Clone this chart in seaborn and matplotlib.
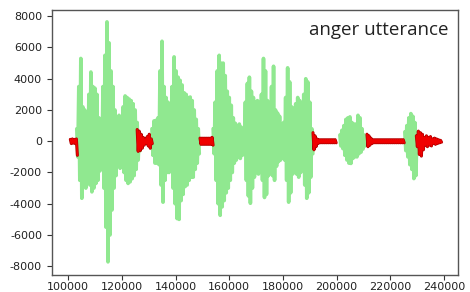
import numpy as np
import pandas as pd
import matplotlib
matplotlib.use("Agg")
import matplotlib.pyplot as plt
import seaborn as sns

# ---- data: waveform envelopes (sample index, amplitude) ----
STEP = 750  # samples between envelope readings

# voiced (green) segments: start sample, upper peaks, lower peaks
g1_start = 103200
g1_up = [800, 3500, 5300, 2200, 2000, 1800, 3000, 4430, 3500, 3400, 3000, 1500, 1340,
         3500, 5500, 7640, 6300, 4500, 3500, 2000, 1500, 1660, 1000, 2200, 2900, 2800,
         2700, 2600, 2400, 2000, 1200, 500]
g1_lo = [-1000, -2500, -3650, -2800, -3000, -2600, -2800, -3240, -3000, -2700, -2500, -1900,
         -1800, -3000, -5500, -7720, -6000, -4400, -3000, -2200, -1400, -1730, -1300, -2000,
         -2500, -2700, -2600, -2400, -2200, -1800, -1200, -600]

g2_start = 131200
g2_up = [800, 1300, 1340, 1500, 4500, 6400, 3500, 2800, 2500, 2200, 3500, 5400, 4500,
         4100, 3900, 3600, 3100, 3000, 2800, 2830, 2600, 2000, 1400, 800]
g2_lo = [-900, -1400, -1400, -1500, -2800, -3900, -2500, -2000, -2000, -1800, -3000, -4000,
         -4950, -5000, -3800, -3400, -2900, -2800, -2500, -2300, -2300, -1800, -1400, -800]

g3_start = 154000
g3_up = [800, 2500, 4500, 5500, 5000, 5000, 4200, 3200, 2800, 2300, 1500, 1150, 1000, 1100,
         900, 600, 2500, 3700, 4100, 3200, 2800, 2500, 2600, 1800, 3000, 5300, 4500, 2600,
         2000, 3500, 4800, 2000, 1800, 1600, 800, 1200, 2800, 4700, 3800, 2200, 2100, 2400,
         2800, 2600, 2200, 3000, 4000, 3800, 2500, 800]
g3_lo = [-800, -2500, -4000, -4740, -4200, -3800, -3300, -3000, -2500, -2000, -1400, -1200,
         -1000, -1100, -900, -600, -2500, -3500, -3970, -3000, -2300, -2000, -2100, -1800,
         -2500, -3600, -3400, -2200, -1800, -2200, -2500, -1600, -1300, -1200, -800, -1200,
         -2500, -3900, -3300, -2100, -2000, -2100, -2300, -2000, -1800, -2800, -3650, -3300,
         -2300, -800]

g4_start = 201200
g4_up = [400, 700, 1000, 1400, 1500, 1560, 1200, 1100, 1100, 1660, 1500, 800, 400, 200]
g4_lo = [-300, -470, -900, -1200, -1400, -1420, -1100, -1000, -1000, -800, -700, -500,
         -300, -200]

g5_start = 225400
g5_up = [600, 1000, 1500, 1770, 1600, 1200, 300]
g5_lo = [-600, -1000, -1500, -1800, -2390, -2200, -500]

# unvoiced / silence (red) segments
r1_start = 100800
r1_up = [120, 150, 120, 150]
r1_lo = [-150, -120, -150, -900]

r2_start = 125700
r2_up = [750, 650, 450, 250, 150, 300, 450, 150]
r2_lo = [-650, -600, -450, -250, -150, -300, -450, -150]

r3_start = 149100
r3_up = [200, 200, 200, 200, 200, 200, 250]
r3_lo = [-200, -200, -200, -200, -200, -200, -250]

r4_start = 191200
r4_up = [550, 350, 150, 100, 100, 100, 100, 100, 100, 100, 100, 100]
r4_lo = [-550, -350, -150, -100, -100, -100, -100, -100, -100, -100, -100, -100]

r5_start = 211300
r5_up = [450, 350, 200, 100, 100, 100, 100, 100, 100, 100, 100, 100, 100, 100, 100, 100,
         100, 100, 100]
r5_lo = [-350, -250, -150, -100, -100, -100, -100, -100, -100, -100, -100, -100, -100, -100,
         -100, -100, -100, -100, -100]

r6_start = 229700
r6_up = [350, 650, 550, 450, 250, 350, 250, 300, 150, 200, 150, 100, 60]
r6_lo = [-350, -850, -950, -550, -250, -350, -250, -300, -150, -200, -150, -100, -60]

x_ticks = [100000, 120000, 140000, 160000, 180000, 200000, 220000, 240000]
y_ticks = [-8000, -6000, -4000, -2000, 0, 2000, 4000, 6000, 8000]
label = "anger utterance"


def segment_frame(name, start, up, lo):
    rows = []
    for i, (u, l) in enumerate(zip(up, lo)):
        s = start + i * STEP
        rows.append((name, s, u))
        rows.append((name, s + STEP / 2, l))
    return pd.DataFrame(rows, columns=["seg", "sample", "amp"])


green = pd.concat([
    segment_frame("g1", g1_start, g1_up, g1_lo),
    segment_frame("g2", g2_start, g2_up, g2_lo),
    segment_frame("g3", g3_start, g3_up, g3_lo),
    segment_frame("g4", g4_start, g4_up, g4_lo),
    segment_frame("g5", g5_start, g5_up, g5_lo),
], ignore_index=True)

red = pd.concat([
    segment_frame("r1", r1_start, r1_up, r1_lo),
    segment_frame("r2", r2_start, r2_up, r2_lo),
    segment_frame("r3", r3_start, r3_up, r3_lo),
    segment_frame("r4", r4_start, r4_up, r4_lo),
    segment_frame("r5", r5_start, r5_up, r5_lo),
    segment_frame("r6", r6_start, r6_up, r6_lo),
], ignore_index=True)

sns.set_style("ticks")
plt.rcParams["font.family"] = ["DejaVu Sans"]

fig = plt.figure(figsize=(4.7, 2.92), dpi=100)
ax = fig.add_axes([51.7 / 470, 1 - 275 / 292, (458.3 - 51.7) / 470, (275 - 10) / 292])

sns.lineplot(data=green, x="sample", y="amp", units="seg", estimator=None, sort=False,
             color="#90e890", lw=2.6, ax=ax)
sns.lineplot(data=red, x="sample", y="amp", units="seg", estimator=None, sort=False,
             color="#b00000", lw=2.2, ax=ax)
sns.lineplot(data=red, x="sample", y="amp", units="seg", estimator=None, sort=False,
             color="#f00000", lw=1.2, ax=ax)

ax.set_xlim(93855, 245325)
ax.set_ylim(-8560, 8400)
ax.set_xticks(x_ticks)
ax.set_xticklabels([str(v) for v in x_ticks])
ax.set_yticks(y_ticks)
ax.set_yticklabels([str(v) for v in y_ticks])
ax.set_xlabel("")
ax.set_ylabel("")
ax.tick_params(labelsize=8, length=3.5, width=0.8, colors="#333333", labelcolor="#222222")
ax.tick_params(axis="x", pad=1.2)
for sp in ax.spines.values():
    sp.set_visible(True)
    sp.set_color("#555555")
    sp.set_linewidth(1.0)

ax.text(0.975, 0.905, label, transform=ax.transAxes, ha="right", va="baseline",
        fontsize=13.5, family=["Open Sans", "DejaVu Sans"], color="#222222")

fig.savefig("out.png", dpi=100)
